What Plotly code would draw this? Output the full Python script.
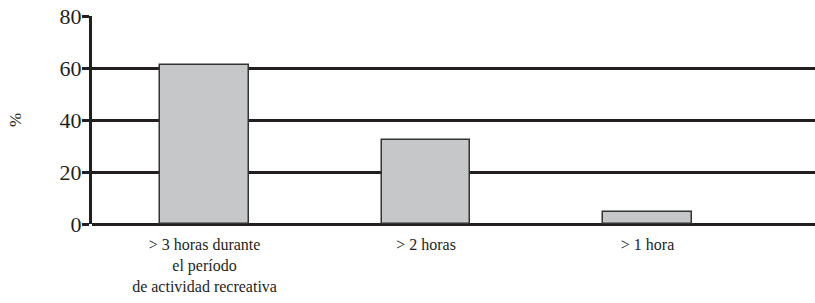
import plotly.graph_objects as go

categories = ["> 3 horas durante<br>el período<br>de actividad recreativa", "> 2 horas", "> 1 hora"]
values = [61.3, 32.3, 4.6]
y_ticks = [0, 20, 40, 60, 80]

ink = "#231f20"
font_family = "'Liberation Serif', 'Times New Roman', Times, serif"

fig = go.Figure()
fig.add_trace(go.Bar(
    x=[0, 1, 2],
    y=values,
    width=0.40,
    marker=dict(color="#c6c7c9", line=dict(color="#333333", width=1.5)),
    hoverinfo="skip",
))

fig.update_layout(
    width=815, height=303,
    margin=dict(l=92, r=0, t=16, b=79),
    paper_bgcolor="white", plot_bgcolor="white",
    showlegend=False,
    font=dict(family=font_family, color=ink),
    bargap=0,
)
fig.update_xaxes(
    range=[-0.508, 2.756],
    tickmode="array", tickvals=[0, 1, 2], ticktext=categories,
    tickfont=dict(size=16, family=font_family, color=ink),
    showgrid=False, zeroline=False,
    showline=False, ticks="", automargin=False,
    ticklabelstandoff=9,
)
fig.update_yaxes(
    range=[0, 80],
    tickmode="array", tickvals=y_ticks,
    tickfont=dict(size=22, family=font_family, color=ink),
    showgrid=True, gridcolor=ink, gridwidth=3,
    zeroline=True, zerolinecolor=ink, zerolinewidth=3,
    showline=True, linecolor=ink, linewidth=3,
    ticks="outside", ticklen=7, tickwidth=3, tickcolor=ink,
    ticklabelstandoff=-4,
    automargin=False,
    title=dict(text="%", font=dict(size=17, family=font_family, color=ink), standoff=34),
)

fig.write_html(
    "out.html",
    config={"displayModeBar": False},
    post_script="document.body.style.margin='0';document.body.style.overflow='hidden';",
)
